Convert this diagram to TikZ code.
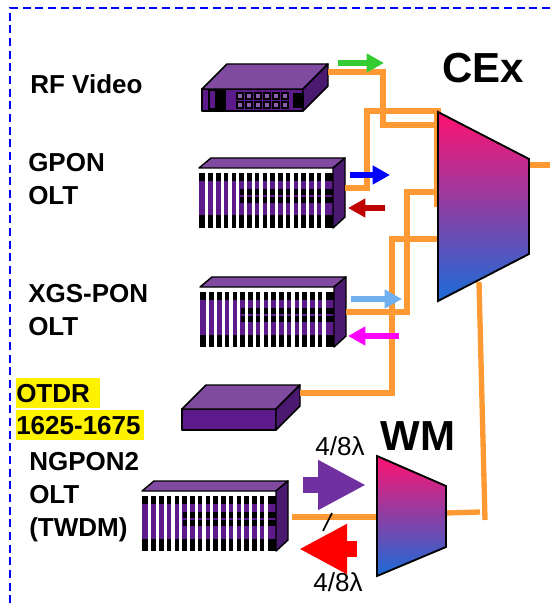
\documentclass[tikz,border=0pt]{standalone}
\usepackage{fontspec}
\setmainfont{Liberation Sans}
\usetikzlibrary{arrows.meta, positioning}
\definecolor{fibre}{HTML}{FF9933}
\definecolor{topface}{HTML}{7F4A9F}
\definecolor{frontface}{HTML}{5C1A8A}
\definecolor{sideface}{HTML}{4A1A70}
\definecolor{muxtop}{HTML}{FF1270}
\definecolor{muxbot}{HTML}{1A6CD8}
\definecolor{lightblue}{HTML}{6FB0F0}
\definecolor{darkred}{HTML}{C00000}
\definecolor{upstream}{HTML}{7030A0}
\definecolor{rfgreen}{HTML}{33CC33}
\definecolor{pinkarrow}{HTML}{FF00FF}
\tikzset{
  fibreline/.style={draw=fibre,line width=4pt},
  face/.style={draw=black,line width=1.1pt,line join=round},
  mux/.style={draw=black,line width=1.4pt,line join=miter,top color=muxtop,bottom color=muxbot},
  lbl/.style={inner sep=0pt,anchor=west,align=left,font=\fontsize{19.5}{24.5}\selectfont\bfseries},
  muxname/.style={inner sep=0pt,anchor=base,font=\fontsize{31.5}{36}\selectfont\bfseries},
  lambdalbl/.style={inner sep=0pt,anchor=base,font=\fontsize{19.5}{24}\selectfont},
  otdrlbl/.style={lbl,fill=yellow,minimum height=22.5pt,text depth=0pt},
  smallarrow/.style={line width=4.5pt,-{Triangle[length=13pt,width=13.5pt]}},
  bigarrow/.style={line width=12pt,-{Triangle[length=36pt,width=35pt]}},
  pics/rack/.style={code={
    \fill[white] (0,0) rectangle (134,5);
    \fill[black] (0,5) rectangle (134,60);
    \fill[frontface] (0,13) rectangle (134,47.5);
    \fill[black] (41,21) rectangle (134,27);
    \fill[black] (41,29) rectangle (134,35);
    \foreach \i in {1,...,16}
      \fill[white] ({\i*7.75-1.6},5) rectangle ({\i*7.75+1.6},60);
    \draw[face,fill=topface] (0,0) -- (12,-10) -- (146,-10) -- (134,0) -- cycle;
    \draw[face,fill=sideface] (134,0) -- (146,-10) -- (146,49) -- (134,60) -- cycle;
    \coordinate (-port) at (146,20);
  }},
  pics/slab/.style n args={3}{code={
    \draw[face,fill=frontface] (0,0) rectangle (#1,#2);
    \draw[face,fill=topface] (0,0) -- (#3,-#3) -- ({#1+#3},-#3) -- (#1,0) -- cycle;
    \draw[face,fill=sideface] (#1,0) -- ({#1+#3},-#3) -- ({#1+#3},{#2-#3}) -- (#1,#2) -- cycle;
    \coordinate (-port) at ({#1+#3},{-#3+8});
  }}
}
\begin{document}
\begin{tikzpicture}[x=0.75pt,y=-0.75pt]
  \useasboundingbox (0,0) rectangle (550,605);
  % frame
  \coordinate (frameA) at (550,8);
  \coordinate (frameB) at (10,8);
  \coordinate (frameC) at (10,605);
  \draw[blue,line width=2pt,dash pattern=on 6pt off 3.5pt] (frameA) -- (frameB) -- (frameC);
  % labels
  \node[lbl] (rf) at (30,84) {RF Video};
  \node[lbl] (gponlbl) at (28,179) {GPON\\OLT};
  \node[lbl] (xgslbl) at (28,310) {XGS-PON\\OLT};
  \node[otdrlbl,text width=62.5pt] (otdrA) at (16,393) {OTDR};
  \node[otdrlbl,text width=95.5pt] (otdrB) at (16,425) {1625-1675};
  \node[lbl] (ngponlbl) at (29,497) {NGPON2\\OLT\\(TWDM)};
  \node[muxname] (cexlbl) at (483,83) {CEx};
  \node[muxname] (wmlbl) at (418,450) {WM};
  \node[lambdalbl] (lambdaA) at (340,455) {4/8λ};
  \node[lambdalbl] (lambdaB) at (338,591) {4/8λ};
  % devices
  \pic (rfbox) at (202,89) {slab={101}{22}{25}};
  \pic (gpon) at (199,168) {rack};
  \pic (xgs) at (200,287) {rack};
  \pic (otdr) at (182,409) {slab={94}{21}{24}};
  \pic (ngpon) at (142,491) {rack};
  % rf video front panel
  \fill[black] (217,90) rectangle (226,110);
  \draw[black,line width=1pt] (209,90) rectangle (216,109);
  \fill[black] (293,93) rectangle (304,108);
  \foreach \i in {0,...,5} {
    \draw[black,line width=1.1pt,fill=frontface!70!white] ({237+\i*9},93) rectangle ({243+\i*9},99);
    \draw[black,line width=1.1pt,fill=frontface!70!white] ({237+\i*9},102) rectangle ({243+\i*9},108);
  }
  % ports on the muxes
  \coordinate (cexA) at (441,111);
  \coordinate (cexB) at (438,125);
  \coordinate (cexC) at (437,192);
  \coordinate (cexD) at (438,239);
  \coordinate (cexE) at (479,282);
  \coordinate (cexout) at (550,165);
  \coordinate (cexport) at (529,165);
  \coordinate (wmin) at (377,517);
  \coordinate (wmout) at (446,513);
  \coordinate (wmend) at (480,512);
  \coordinate (riserA) at (485,520);
  \coordinate (ngponport) at (292,517);
  \coordinate (stemA) at (437,111);
  \coordinate (stemB) at (437,207);
  \coordinate (slashA) at (332,513);
  \coordinate (slashB) at (323,531);
  % fibres
  \draw[fibreline] (rfbox-port) -| (383,125) -- (cexB);
  \draw[fibreline] (gpon-port) -| (367,111) -- (cexA);
  \draw[fibreline] (xgs-port) ++(0,5) -| (407,192) -- (cexC);
  \draw[fibreline] (otdr-port) -| (392,239) -- (cexD);
  \draw[fibreline] (stemA) -- (stemB);
  \draw[fibreline] (cexE) -- (riserA);
  \draw[fibreline] (wmout) -- (wmend);
  \draw[fibreline] (ngponport) -- (wmin);
  \draw[fibreline] (cexport) -- (cexout);
  \draw[black,line width=1.2pt] (slashA) -- (slashB);
  % muxes
  \path[mux] (438,112) -- (529,159) -- (529,254) -- (438,301) -- cycle;
  \path[mux] (377,456) -- (446,486) -- (446,547) -- (377,576) -- cycle;
  % direction arrows
  \coordinate (greenA) at (338,63);
  \coordinate (greenB) at (384,63);
  \coordinate (blueA) at (350,175);
  \coordinate (blueB) at (390,175);
  \coordinate (redA) at (385,208);
  \coordinate (redB) at (348,208);
  \coordinate (skyA) at (351,299);
  \coordinate (skyB) at (402,299);
  \coordinate (pinkA) at (399,336);
  \coordinate (pinkB) at (348,336);
  \coordinate (upA) at (303,485);
  \coordinate (upB) at (366,485);
  \coordinate (downA) at (357,549);
  \coordinate (downB) at (299,549);
  \draw[smallarrow,rfgreen] (greenA) -- (greenB);
  \draw[smallarrow,blue] (blueA) -- (blueB);
  \draw[smallarrow,darkred] (redA) -- (redB);
  \draw[smallarrow,lightblue] (skyA) -- (skyB);
  \draw[smallarrow,pinkarrow] (pinkA) -- (pinkB);
  \draw[bigarrow,upstream] (upA) -- (upB);
  \draw[bigarrow,red] (downA) -- (downB);
\end{tikzpicture}
\end{document}
